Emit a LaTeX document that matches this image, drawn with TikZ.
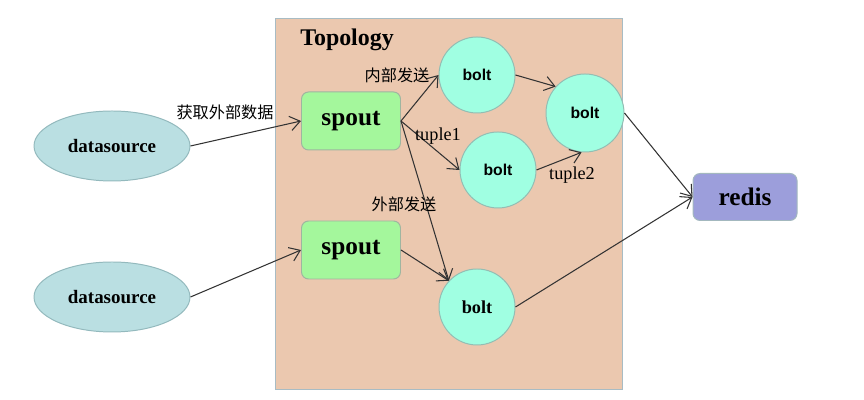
\documentclass[tikz,border=0pt]{standalone}
\usepackage{fontspec}
\setmainfont{Liberation Serif}
\setsansfont{Liberation Sans}
\newfontfamily\cjk{Noto Sans CJK SC}
\usetikzlibrary{shapes,arrows.meta,positioning}

\definecolor{topofill}{HTML}{EBC8AF}
\definecolor{topoline}{HTML}{A8BCC4}
\definecolor{srcfill}{HTML}{BADFE2}
\definecolor{srcline}{HTML}{93B9BD}
\definecolor{spoutfill}{HTML}{A4F79C}
\definecolor{spoutline}{HTML}{9FB5A0}
\definecolor{boltfill}{HTML}{A0FFE2}
\definecolor{boltline}{HTML}{93BDB3}
\definecolor{redisfill}{HTML}{9C9EDB}
\definecolor{redisline}{HTML}{A3B8BE}

\begin{document}
\begin{tikzpicture}[
    topobox/.style={draw=topoline, fill=topofill, line width=0.7pt, minimum width=8.675cm, minimum height=9.25cm},
    source/.style={draw=srcline, fill=srcfill, line width=0.7pt, ellipse, minimum width=3.9cm, minimum height=1.75cm,
                   font=\fontsize{13.5}{16}\selectfont\bfseries},
    spoutbox/.style={draw=spoutline, fill=spoutfill, line width=0.7pt, rounded corners=5pt, minimum width=2.475cm,
                     minimum height=1.45cm, font=\fontsize{18}{20}\selectfont\bfseries},
    bolt/.style={draw=boltline, fill=boltfill, line width=0.7pt, circle, inner sep=0pt, minimum size=1.9cm,
                 font=\fontsize{11.2}{13}\selectfont\sffamily\bfseries},
    redisbox/.style={draw=redisline, fill=redisfill, line width=0.7pt, rounded corners=5pt, minimum width=2.6cm,
                     minimum height=1.175cm, font=\fontsize{18}{20}\selectfont\bfseries},
    lbl/.style={inner sep=0pt, font=\fontsize{11.5}{13}\selectfont\cjk},
    tlbl/.style={inner sep=0pt, font=\fontsize{13}{15}\selectfont},
    arrow/.style={-{Straight Barb[length=2.5mm,width=3.6mm]}, draw=black!80, line width=0.75pt}
]
    \useasboundingbox (0,0) rectangle (21.6,10);

    \node[topobox] (topo) at (11.2125,4.9) {};
    \node[inner sep=0pt, font=\fontsize{17}{19}\selectfont\bfseries] (topotitle) at (8.675,9.0) {Topology};

    \node[source] (ds1) at (2.8,6.35) {datasource};
    \node[source] (ds2) at (2.8,2.575) {datasource};

    \node[spoutbox] (spout1) at (8.775,6.975) {spout};
    \node[spoutbox] (spout2) at (8.775,3.75) {spout};

    \node[bolt] (boltA) at (11.925,8.125) {bolt};
    \node[bolt] (boltM) at (12.45,5.75) {bolt};
    \node[bolt, minimum size=1.95cm] (boltR) at (14.625,7.175) {bolt};
    \node[bolt, font=\fontsize{13}{15}\selectfont\rmfamily\bfseries] (boltB) at (11.925,2.325) {bolt};

    \node[redisbox] (redis) at (18.625,5.075) {redis};

    \draw[arrow] (ds1.east) -- (spout1.west);
    \draw[arrow] (ds2.east) -- (spout2.west);
    \draw[arrow] (spout1.east) -- (boltA.west);
    \draw[arrow] (spout1.east) -- (boltM.west);
    \draw[arrow] (spout1.east) -- (boltB.137);
    \draw[arrow] (spout2.east) -- (boltB.137);
    \draw[arrow] (boltA.east) -- (boltR.138);
    \draw[arrow] (boltM.east) -- (boltR.265);
    \draw[arrow] (boltR.east) -- (redis.west);
    \draw[arrow] (boltB.east) -- (redis.west);

    % edge labels
    \node[lbl] (fetch) at (5.625,7.2) {获取外部数据};
    \node[lbl] (inner) at (9.925,8.125) {内部发送};
    \node[lbl] (outer) at (10.1,4.9) {外部发送};
    \node[tlbl] (tup1) at (10.95,6.6) {tuple1};
    \node[tlbl] (tup2) at (14.3,5.625) {tuple2};

\end{tikzpicture}
\end{document}
